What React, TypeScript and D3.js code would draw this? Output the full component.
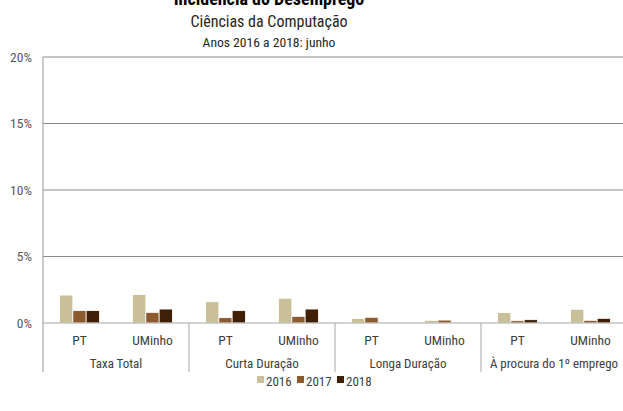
import React from "react";
import * as d3 from "d3";

const groups = ["Taxa Total", "Curta Duração", "Longa Duração", "À procura do 1º emprego"];
const subs = ["PT", "UMinho"];
const years = ["2016", "2017", "2018"];
const colors = ["#C9BF98", "#8C5A2D", "#3F1F05"];
// values per group, per sub, per year (%)
const v2016 = [2.1, 2.15, 1.6, 1.86, 0.33, 0.2, 0.78, 1.03];
const v2017 = [0.93, 0.8, 0.4, 0.5, 0.43, 0.22, 0.17, 0.2];
const v2018 = [0.93, 1.05, 0.93, 1.05, 0, 0, 0.25, 0.35];
const yTicks = [0, 5, 10, 15, 20];

const W = 623, H = 411;
const left = 43, right = 623, top = 57, bottom = 323;
const font = "'Liberation Sans Narrow', 'Roboto Condensed', Roboto, sans-serif";
const tcx = 269;

export default function App() {
  const series = [v2016, v2017, v2018];
  const cats = groups.flatMap((g, gi) => subs.map((s) => `${gi}-${s}`));
  const x = d3.scaleBand().domain(cats).range([left, right + 4]).paddingInner(0).paddingOuter(0);
  const y = d3.scaleLinear().domain([0, 20]).range([bottom, top]);
  const bw = 13.3;
  const gw = (right + 4 - left) / groups.length;
  return (
    <svg width={W} height={H} style={{ position: "absolute", left: 0, top: 0, fontFamily: font }}>
      <rect width={W} height={H} fill="#fff" />
      <text x={tcx} y={5} textAnchor="middle" fontSize={18} fontWeight="bold" fill="#000">Incidência do Desemprego</text>
      <text x={tcx} y={27} textAnchor="middle" fontSize={16} fill="#262626">Ciências da Computação</text>
      <text x={tcx} y={47} textAnchor="middle" fontSize={13.6} fill="#262626">Anos 2016 a 2018: junho</text>
      {yTicks.slice(1).map((t) => (
        <line key={t} x1={left} x2={right} y1={y(t)} y2={y(t)} stroke="#8c8c8c" strokeWidth={1} />
      ))}
      {yTicks.map((t) => (
        <text key={"l" + t} x={32} y={y(t) + 4.5} textAnchor="end" fontSize={13.5} fill="#595959">{t}%</text>
      ))}
      {cats.map((c, ci) =>
        series.map((s, si) => {
          const cx = (x(c) as number) + x.bandwidth() / 2;
          const val = s[ci];
          if (val <= 0) return null;
          return (
            <rect key={c + si} x={cx - 1.5 * bw + si * bw} y={y(val)} width={bw} height={bottom - y(val)}
              fill={colors[si]} stroke="#fff" strokeWidth={0.8} />
          );
        })
      )}
      <line x1={left} x2={right} y1={bottom} y2={bottom} stroke="#a6a6a6" strokeWidth={1.2} />
      <line x1={left} x2={left} y1={top} y2={372} stroke="#a6a6a6" strokeWidth={1.2} />
      {groups.map((g, gi) => (
        <g key={g}>
          {gi > 0 && <line x1={left + gi * gw} x2={left + gi * gw} y1={bottom} y2={372} stroke="#a6a6a6" strokeWidth={1} />}
          <text x={left + gi * gw + gw / 2} y={368} textAnchor="middle" fontSize={13} fill="#404040">{g}</text>
        </g>
      ))}
      {cats.map((c, ci) => (
        <text key={"s" + c} x={(x(c) as number) + x.bandwidth() / 2} y={345} textAnchor="middle" fontSize={13.5} fill="#404040">
          {subs[ci % 2]}
        </text>
      ))}
      {years.map((yr, i) => (
        <g key={yr} transform={`translate(${257 + i * 40},376)`}>
          <rect x={0} y={0} width={7} height={7} fill={colors[i]} />
          <text x={9} y={9.5} fontSize={13} fill="#404040">{yr}</text>
        </g>
      ))}
    </svg>
  );
}
